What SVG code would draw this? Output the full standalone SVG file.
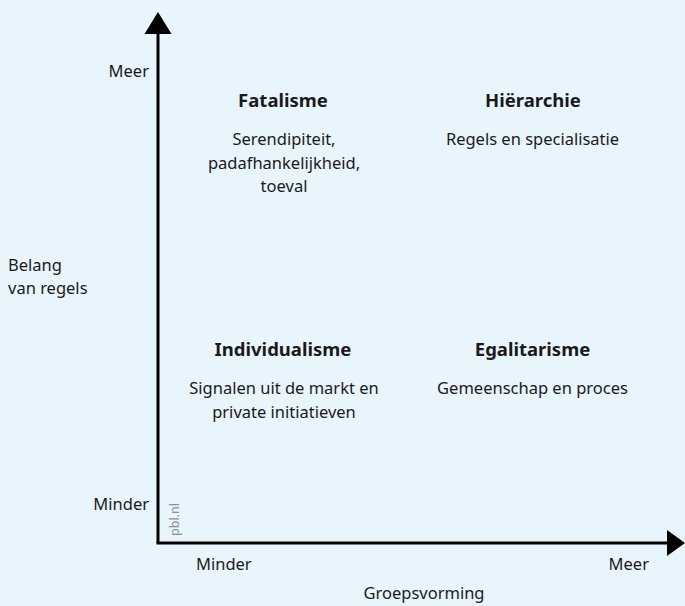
<svg xmlns="http://www.w3.org/2000/svg" width="685" height="606" viewBox="0 0 685 606">
  <style>
    text { font-family: "Noto Sans", "Open Sans", sans-serif; font-size: 16.5px; fill: #1a1a1a; }
    .title { font-weight: bold; font-size: 18.5px; }
    .mid { text-anchor: middle; }
    .end { text-anchor: end; }
    .axis { stroke: #000; stroke-width: 3; fill: none; }
    .credit { font-size: 12.5px; fill: #909090; }
  </style>
  <rect width="685" height="606" fill="#e9f5fd"/>

  <!-- axes with filled triangular heads -->
  <g id="connectors">
    <path class="axis" d="M158,543 V34"/>
    <path class="axis" d="M156.5,543 H667"/>
    <polygon points="158,12 144.5,34 171.5,34" fill="#000"/>
    <polygon points="685,543 667,530 667,556" fill="#000"/>
  </g>

  <!-- axis labels -->
  <g id="y-axis-labels">
    <text class="end" x="149" y="77">Meer</text>
    <text class="end" x="149" y="510">Minder</text>
    <text x="8" y="271">Belang</text>
    <text x="8" y="294">van regels</text>
  </g>
  <g id="x-axis-labels">
    <text x="196" y="570">Minder</text>
    <text class="end" x="649" y="570">Meer</text>
    <text class="mid" x="424" y="599">Groepsvorming</text>
  </g>
  <text class="credit" transform="translate(179,536) rotate(-90)">pbl.nl</text>

  <!-- quadrants -->
  <g id="fatalisme">
    <text class="title mid" x="283" y="107">Fatalisme</text>
    <text class="mid" x="284" y="145">Serendipiteit,</text>
    <text class="mid" x="284" y="169">padafhankelijkheid,</text>
    <text class="mid" x="284" y="192">toeval</text>
  </g>
  <g id="hierarchie">
    <text class="title mid" x="533" y="107">Hiërarchie</text>
    <text class="mid" x="532.5" y="145">Regels en specialisatie</text>
  </g>
  <g id="individualisme">
    <text class="title mid" x="283" y="356">Individualisme</text>
    <text class="mid" x="284" y="394">Signalen uit de markt en</text>
    <text class="mid" x="284" y="418">private initiatieven</text>
  </g>
  <g id="egalitarisme">
    <text class="title mid" x="532.5" y="356">Egalitarisme</text>
    <text class="mid" x="532.5" y="394">Gemeenschap en proces</text>
  </g>
</svg>
